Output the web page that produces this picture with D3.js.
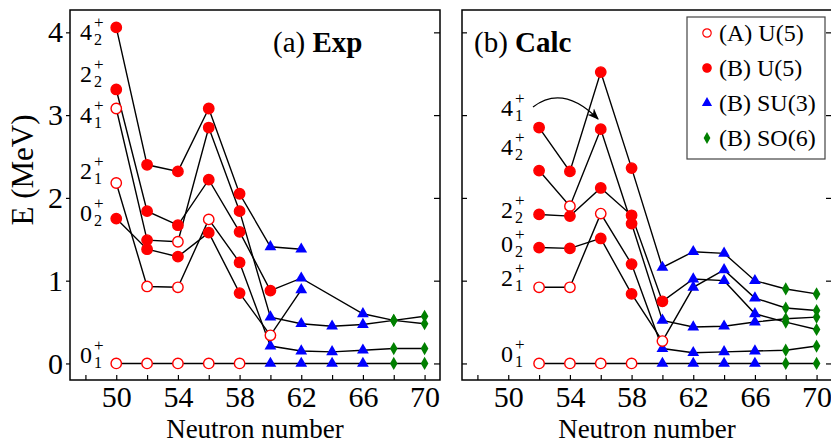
<!DOCTYPE html>
<meta charset="utf-8">
<style>
body { margin: 0; background: #fff; }
svg text { font-family: "Liberation Serif", "Times New Roman", serif; fill: #000; }
.frame { fill: none; stroke: #000; stroke-width: 1.5; }
.axis path { stroke: none; }
.axis line { stroke: #000; stroke-width: 1.2; }
.axis text { font-family: "Liberation Serif", serif; font-size: 30px; }
.level { fill: none; stroke: #000; stroke-width: 1.4; }
</style>
<body>
<script src="https://d3js.org/d3.v7.min.js"></script>
<script>

// ---- data ----
// marker codes: A = (A) U(5) open red, B = (B) U(5) filled red,
//               S = (B) SU(3) blue triangle, O = (B) SO(6) green diamond
var neutronsExp = [50, 52, 54, 56, 58, 60, 62, 64, 66, 68, 70];
var exp_0_1 = [0, 0, 0, 0, 0, 0, 0, 0, 0, 0, 0];
var exp_0_1_mk = ["A","A","A","A","A","S","S","S","S","O","O"];
var exp_2_1 = [2.18, 0.93, 0.92, 1.74, 1.22, 0.21, 0.15, 0.14, 0.16, 0.18, 0.18];
var exp_2_1_mk = ["A","A","A","A","B","S","S","S","S","O","O"];
var exp_0_2 = [1.75, 1.38, 1.29, 1.58, 0.85, 0.34, 0.89, null, null, null, null];
var exp_0_2_mk = ["B","B","B","B","B","A","S",null,null,null,null];
var exp_4_1 = [3.08, 1.49, 1.47, 2.85, 1.84, 0.56, 0.48, 0.45, 0.47, 0.52, 0.57];
var exp_4_1_mk = ["A","B","A","B","B","S","S","S","S","O","O"];
var exp_2_2 = [3.31, 1.84, 1.67, 2.22, 1.59, 0.88, 1.03, null, 0.60, 0.52, 0.48];
var exp_2_2_mk = ["B","B","B","B","B","B","S",null,"S","O","O"];
var exp_4_2 = [4.06, 2.40, 2.32, 3.08, 2.05, 1.41, 1.38, null, null, null, null];
var exp_4_2_mk = ["B","B","B","B","B","S","S",null,null,null,null];

var neutronsCalc = [52, 54, 56, 58, 60, 62, 64, 66, 68, 70];
var calc_0_1 = [0, 0, 0, 0, 0, 0, 0, 0, 0, 0];
var calc_0_1_mk = ["A","A","A","A","S","S","S","S","O","O"];
var calc_2_1 = [0.92, 0.92, 1.81, 1.20, 0.18, 0.13, 0.14, 0.15, 0.16, 0.21];
var calc_2_1_mk = ["A","A","A","B","S","S","S","S","O","O"];
var calc_0_2 = [1.40, 1.39, 1.51, 0.84, 0.27, 0.92, 1.13, 0.79, 0.67, 0.64];
var calc_0_2_mk = ["B","B","B","B","A","S","S","S","O","O"];
var calc_2_2 = [1.80, 1.78, 2.12, 1.79, 0.75, 1.02, 1.00, 0.60, 0.50, 0.41];
var calc_2_2_mk = ["B","B","B","B","B","S","S","S","O","O"];
var calc_4_1 = [2.33, 1.90, 2.83, 1.69, 0.52, 0.44, 0.45, 0.50, 0.54, 0.56];
var calc_4_1_mk = ["B","A","B","B","S","S","S","S","O","O"];
var calc_4_2 = [2.85, 2.32, 3.52, 2.36, 1.16, 1.35, 1.33, 1.00, 0.90, 0.84];
var calc_4_2_mk = ["B","B","B","B","S","S","S","S","O","O"];

var xTicks = [48, 50, 52, 54, 56, 58, 60, 62, 64, 66, 68, 70];
var xTickLabels = [50, 54, 58, 62, 66, 70];
var yTicks = [0, 1, 2, 3, 4];

var legendNames = ["(A) U(5)", "(B) U(5)", "(B) SU(3)", "(B) SO(6)"];
var legendCodes = ["A", "B", "S", "O"];

// state labels: [spin, index, energy where the label sits]
var expStateLabels = [["4","2",4.0],["2","2",3.5],["4","1",3.0],["2","1",2.33],["0","2",1.82],["0","1",0.1]];
var calcStateLabels = [["4","1",3.09],["4","2",2.61],["2","2",1.85],["0","2",1.44],["2","1",1.03],["0","1",0.12]];

// ---- layout ----
var W = 831, H = 444;
var yTop = 10, yBot = 380;
var panels = [
  {x0: 70, x1: 440, name: "(a) ", bold: "Exp", titleX: 273, labelX: 80, N: neutronsExp,
   levels: [[exp_0_1, exp_0_1_mk], [exp_2_1, exp_2_1_mk], [exp_0_2, exp_0_2_mk],
            [exp_4_1, exp_4_1_mk], [exp_2_2, exp_2_2_mk], [exp_4_2, exp_4_2_mk]],
   labels: expStateLabels, yLabels: true},
  {x0: 462, x1: 832, name: "(b) ", bold: "Calc", titleX: 474, labelX: 501, N: neutronsCalc,
   levels: [[calc_0_1, calc_0_1_mk], [calc_2_1, calc_2_1_mk], [calc_0_2, calc_0_2_mk],
            [calc_4_1, calc_4_1_mk], [calc_2_2, calc_2_2_mk], [calc_4_2, calc_4_2_mk]],
   labels: calcStateLabels, yLabels: false}
];

var svg = d3.select("body").append("svg")
    .attr("width", W).attr("height", H);

svg.append("defs").append("marker")
    .attr("id", "arrow")
    .attr("viewBox", "0 0 10 10")
    .attr("refX", 9).attr("refY", 5)
    .attr("markerWidth", 9).attr("markerHeight", 9)
    .attr("orient", "auto")
  .append("path")
    .attr("d", "M0,1 L10,5 L0,9 L3,5 z")
    .attr("fill", "#000");

var y = d3.scaleLinear().domain([-0.2, 4.27]).range([yBot, yTop]);

function marker(sel, code) {
  if (code == "A" || code == "B") {
    sel.append("circle").attr("r", 5.2)
      .attr("fill", code == "A" ? "#fff" : "#ff0000")
      .attr("stroke", "#ff0000").attr("stroke-width", 1.4);
  } else if (code == "S") {
    sel.append("path").attr("d", d3.symbol(d3.symbolTriangle, 60)())
      .attr("fill", "#0000ff");
  } else {
    sel.append("path").attr("d", d3.symbol(d3.symbolDiamond, 50)())
      .attr("fill", "#008000");
  }
}

panels.forEach(function(p) {
  var x = d3.scaleLinear().domain([47, 71]).range([p.x0, p.x1]);
  var g = svg.append("g");

  // x ticks (inward) and labels
  g.append("g").attr("class", "axis")
    .attr("transform", "translate(0," + yBot + ")")
    .call(d3.axisBottom(x).tickValues(xTicks).tickSize(-5).tickFormat(""));
  g.append("g").attr("class", "axis")
    .attr("transform", "translate(0," + yBot + ")")
    .call(d3.axisBottom(x).tickValues(xTickLabels).tickSize(0).tickPadding(6));

  // y ticks
  if (p.yLabels) {
    g.append("g").attr("class", "axis")
      .attr("transform", "translate(" + p.x0 + ",0)")
      .call(d3.axisLeft(y).tickValues(yTicks).tickSize(4).tickPadding(3).tickFormat(d3.format("d")));
  } else {
    g.append("g").attr("class", "axis")
      .attr("transform", "translate(" + p.x0 + ",0)")
      .call(d3.axisLeft(y).tickValues(yTicks).tickSize(-5).tickFormat(""));
  }
  g.append("g").attr("class", "axis")
    .attr("transform", "translate(" + p.x1 + ",0)")
    .call(d3.axisRight(y).tickValues(yTicks).tickSize(-6).tickFormat(""));

  g.append("rect").attr("class", "frame")
    .attr("x", p.x0).attr("y", yTop)
    .attr("width", p.x1 - p.x0).attr("height", yBot - yTop);

  // level lines
  var line = d3.line().x(function(d) { return x(d.n); }).y(function(d) { return y(d.e); });
  var pts = [];
  p.levels.forEach(function(lv) {
    var d = [];
    p.N.forEach(function(n, i) {
      if (lv[0][i] != null) d.push({n: n, e: lv[0][i], m: lv[1][i]});
    });
    g.append("path").attr("class", "level").attr("d", line(d));
    pts = pts.concat(d);
  });
  pts.forEach(function(d) {
    var s = g.append("g").attr("transform", "translate(" + x(d.n) + "," + y(d.e) + ")");
    marker(s, d.m);
  });

  // state labels
  p.labels.forEach(function(l) {
    var yc = y(l[2]);
    g.append("text").attr("x", p.labelX).attr("y", yc + 8).attr("font-size", 24).text(l[0]);
    g.append("text").attr("x", p.labelX + 14).attr("y", yc - 4).attr("font-size", 17).text("+");
    g.append("text").attr("x", p.labelX + 14).attr("y", yc + 13).attr("font-size", 16).text(l[1]);
  });

  // title
  var t = g.append("text").attr("x", p.titleX).attr("y", 52).attr("font-size", 29);
  t.append("tspan").text(p.name);
  t.append("tspan").attr("font-weight", "bold").text(p.bold);

  g.append("text").attr("x", (p.x0 + p.x1) / 2).attr("y", 438)
    .attr("text-anchor", "middle").attr("font-size", 27).text("Neutron number");
});

// y axis title
svg.append("text")
  .attr("transform", "translate(33,170) rotate(-90)")
  .attr("text-anchor", "middle").attr("font-size", 31).text("E (MeV)");

// arrow from 4_1+ label in calc panel
svg.append("path")
  .attr("d", "M533,107 Q563,84 598,119")
  .attr("fill", "none").attr("stroke", "#000").attr("stroke-width", 1.3)
  .attr("marker-end", "url(#arrow)");

// legend
var lg = svg.append("g").attr("transform", "translate(687,17)");
lg.append("rect").attr("width", 138).attr("height", 142)
  .attr("fill", "#fff").attr("stroke", "#444").attr("stroke-width", 1.2);
legendNames.forEach(function(name, i) {
  var yy = 16 + i * 35;
  var s = lg.append("g").attr("transform", "translate(20," + yy + ")");
  if (legendCodes[i] == "A" || legendCodes[i] == "B") {
    s.append("circle").attr("r", 4.2)
      .attr("fill", legendCodes[i] == "A" ? "#fff" : "#ff0000")
      .attr("stroke", "#ff0000").attr("stroke-width", 1.2);
  } else if (legendCodes[i] == "S") {
    s.append("path").attr("d", d3.symbol(d3.symbolTriangle, 45)()).attr("fill", "#0000ff");
  } else {
    s.append("path").attr("d", d3.symbol(d3.symbolDiamond, 40)()).attr("fill", "#008000");
  }
  lg.append("text").attr("x", 32).attr("y", yy + 8).attr("font-size", 24).text(name);
});

</script>
</body>
